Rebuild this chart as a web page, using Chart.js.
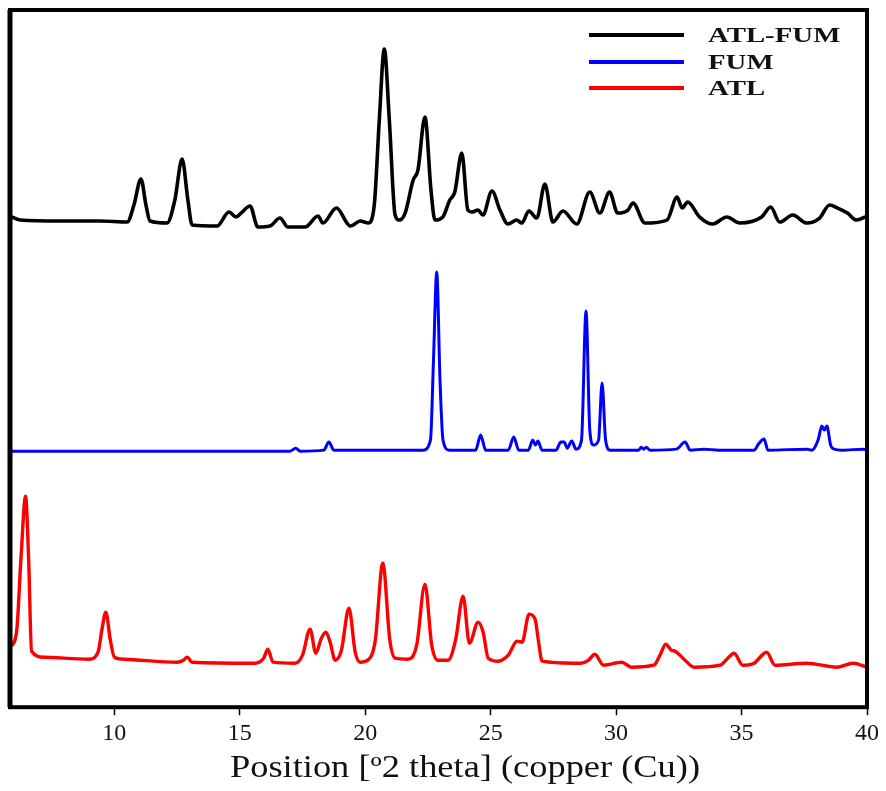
<!DOCTYPE html>
<html>
<head>
<meta charset="utf-8">
<title>XRD ATL / FUM / ATL-FUM</title>
<script src="https://cdn.jsdelivr.net/npm/chart.js@4.4.1/dist/chart.umd.min.js"></script>
<style>
    html, body { margin: 0; padding: 0; background: #fff; }
    canvas { display: block; }
</style>
</head>
<body>
<canvas id="grafica" width="886" height="791"></canvas>
<script>
// 2 theta positions (degrees) and stacked intensities (arbitrary units, offset per trace)
const atlFumX = [5.84, 6.24, 7.84, 9.43, 10.51, 10.78, 11.06, 11.26, 11.42, 12.10, 12.41, 12.70, 12.93, 13.10,
    14.09, 14.57, 14.85, 15.05, 15.41, 15.72, 16.20, 16.60, 16.92, 17.60, 18.12, 18.31, 18.85, 19.41, 19.80,
    20.12, 20.36, 20.56, 20.76, 20.96, 21.19, 21.35, 21.59, 21.91, 22.10, 22.38, 22.62, 22.78, 23.09, 23.37,
    23.57, 23.85, 24.09, 24.25, 24.49, 24.69, 25.05, 25.37, 25.69, 26.04, 26.24, 26.52, 26.84, 27.16, 27.48,
    27.88, 28.43, 28.95, 29.35, 29.74, 30.06, 30.47, 30.67, 31.15, 32.03, 32.43, 32.63, 32.85, 33.33, 33.85,
    34.41, 34.93, 35.80, 36.16, 36.52, 37.04, 37.60, 38.11, 38.51, 38.83, 39.22, 39.58, 40.00];
const atlFumY = [491, 487, 486, 486, 485, 502, 528, 502, 486, 484, 507, 548, 507, 482,
    481, 495, 490, 494, 501, 480, 481, 489, 480, 480, 491, 484, 499, 481, 486,
    484, 502, 587, 658, 587, 492, 487, 494, 527, 537, 590, 517, 487, 490, 507,
    515, 554, 497, 495, 497, 492, 516, 497, 483, 487, 484, 496, 489, 523, 485,
    496, 483, 515, 494, 515, 494, 497, 504, 484, 487, 510, 499, 505, 490, 483,
    490, 484, 490, 500, 485, 492, 484, 489, 502, 499, 494, 487, 491];

const fumX = [5.84, 17.00, 17.23, 17.40, 18.35, 18.55, 18.75, 19.20, 22.30, 22.60, 22.72, 22.85, 22.98, 23.10,
    23.35, 24.40, 24.60, 24.80, 25.70, 25.92, 26.12, 26.50, 26.68, 26.78, 26.88, 27.05, 27.60, 27.80, 27.93,
    28.05, 28.23, 28.40, 28.62, 28.80, 28.95, 29.10, 29.30, 29.44, 29.58, 29.76, 30.90, 31.00, 31.10, 31.20,
    31.35, 32.40, 32.75, 32.95, 33.50, 34.10, 35.50, 35.70, 35.90, 36.05, 37.60, 37.80, 38.05, 38.20, 38.30,
    38.40, 38.55, 38.70, 39.00, 39.85, 40.00];
const fumY = [256, 256, 259, 256, 257, 265, 257, 257, 257, 267, 347, 435, 327, 267,
    257, 257, 272, 257, 257, 270, 257, 257, 267, 262, 266, 257, 257, 265, 265,
    259, 266, 258, 267, 396, 277, 262, 267, 324, 267, 257, 257, 260, 258, 260,
    257, 258, 265, 257, 258, 257, 257, 264, 268, 257, 258, 257, 267, 281, 277,
    281, 262, 258, 257, 258, 257];

const atlX = [5.84, 6.10, 6.28, 6.46, 6.58, 6.70, 7.20, 9.00, 9.35, 9.50, 9.66, 9.84, 10.00, 10.40,
    12.50, 12.75, 12.90, 13.10, 15.60, 15.95, 16.12, 16.32, 17.20, 17.50, 17.80, 18.03, 18.25, 18.43, 18.60,
    18.80, 19.05, 19.35, 19.60, 19.80, 20.10, 20.40, 20.70, 20.98, 21.20, 21.70, 22.05, 22.38, 22.65, 22.90,
    23.30, 23.60, 23.90, 24.15, 24.50, 24.70, 24.90, 25.30, 25.70, 26.05, 26.25, 26.53, 26.77, 26.90, 27.05,
    28.30, 28.60, 28.90, 29.15, 29.50, 30.23, 30.60, 31.50, 31.75, 31.98, 32.20, 32.35, 32.75, 33.10, 34.15,
    34.45, 34.70, 35.05, 35.50, 36.00, 36.33, 37.60, 38.80, 39.45, 40.00];
const atlY = [60, 75, 150, 211, 150, 56, 50, 48, 55, 77, 95, 67, 50, 48,
    45, 47, 50, 45, 44, 49, 58, 45, 44, 52, 78, 54, 69, 75, 65,
    47, 57, 99, 55, 45, 47, 67, 144, 67, 49, 48, 62, 123, 62, 47,
    47, 67, 111, 64, 85, 75, 49, 46, 52, 66, 65, 93, 88, 67, 46,
    44, 44, 47, 53, 42, 45, 40, 42, 52, 63, 57, 56, 47, 40, 42,
    49, 54, 42, 44, 55, 42, 44, 40, 44, 40];

const seriesNames = ['ATL-FUM', 'FUM', 'ATL'];
const seriesColors = ['#000000', '#0000ff', '#ff0000'];
const xTicks = [10, 15, 20, 25, 30, 35, 40];
const xTitle = 'Position [º2 theta] (copper (Cu))';

function toPoints(xs, ys) {
    return xs.map((x, i) => ({ x: x, y: ys[i] }));
}

// frame, axis title and legend drawn on top of the chart
const extras = {
    id: 'extras',
    afterDraw(chart) {
        const ctx = chart.ctx;
        const area = chart.chartArea;
        ctx.save();
        ctx.strokeStyle = '#000';
        ctx.lineWidth = 4;
        ctx.strokeRect(area.left, area.top, area.right - area.left, area.bottom - area.top);
        ctx.lineWidth = 5;
        ctx.beginPath();
        ctx.moveTo(area.left, area.top);
        ctx.lineTo(area.left, area.bottom);
        ctx.stroke();

        // x title, stretched like the original figure
        ctx.fillStyle = '#111';
        ctx.font = '31px "Liberation Serif"';
        ctx.textAlign = 'center';
        ctx.textBaseline = 'alphabetic';
        const w = ctx.measureText(xTitle).width;
        ctx.translate(465, 777);
        ctx.scale(470 / w, 1);
        ctx.fillText(xTitle, 0, 0);
        ctx.restore();

        // legend
        const rows = [35, 62, 88];
        ctx.save();
        ctx.font = 'bold 22px "Liberation Serif"';
        ctx.textBaseline = 'middle';
        ctx.textAlign = 'left';
        seriesNames.forEach((name, i) => {
            ctx.strokeStyle = seriesColors[i];
            ctx.lineWidth = 4;
            ctx.beginPath();
            ctx.moveTo(589, rows[i]);
            ctx.lineTo(684, rows[i]);
            ctx.stroke();
            ctx.save();
            ctx.fillStyle = '#111';
            ctx.translate(708, rows[i] + 1);
            ctx.scale(1.31, 1);
            ctx.fillText(name, 0, 0);
            ctx.restore();
        });
        ctx.restore();
    }
};

function main() {
    const ctx = document.getElementById('grafica').getContext('2d');
    const datos = [toPoints(atlFumX, atlFumY), toPoints(fumX, fumY), toPoints(atlX, atlY)];
    const anchos = [3.6, 3, 3.4];

    new Chart(ctx, {
        type: 'line',
        data: {
            datasets: seriesNames.map((name, i) => ({
                label: name,
                data: datos[i],
                borderColor: seriesColors[i],
                borderWidth: anchos[i],
                pointRadius: 0,
                fill: false,
                cubicInterpolationMode: 'monotone'
            }))
        },
        options: {
            responsive: false,
            animation: false,
            devicePixelRatio: 1,
            layout: { padding: { left: 10, right: 19, top: 10, bottom: 39 } },
            plugins: { legend: { display: false }, tooltip: { enabled: false } },
            scales: {
                x: {
                    type: 'linear',
                    min: 5.84,
                    max: 40,
                    afterBuildTicks: (scale) => {
                        scale.ticks = xTicks.map(v => ({ value: v }));
                    },
                    ticks: {
                        color: '#111',
                        padding: 4,
                        font: { family: '"Liberation Serif"', size: 24 }
                    },
                    grid: {
                        drawOnChartArea: false,
                        drawTicks: true,
                        tickLength: 8,
                        tickWidth: 1.5,
                        tickColor: '#000'
                    },
                    border: { display: false }
                },
                y: {
                    display: false,
                    min: 0,
                    max: 697
                }
            }
        },
        plugins: [extras]
    });
}

document.addEventListener('DOMContentLoaded', function() {
    main();
});
</script>
</body>
</html>
